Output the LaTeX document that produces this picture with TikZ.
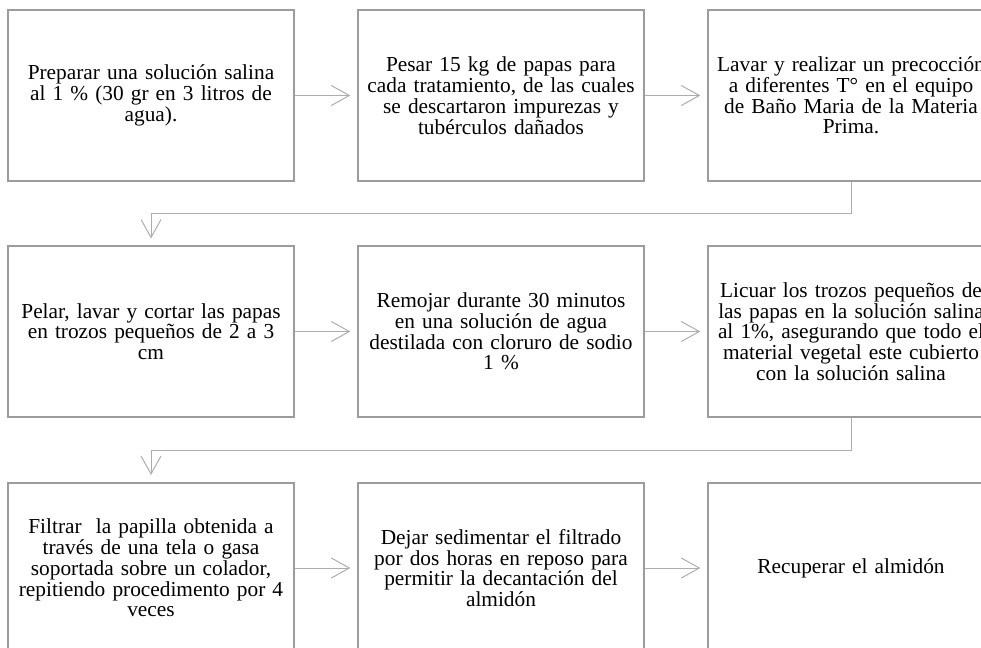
\documentclass[tikz,border=0pt]{standalone}
\usepackage{fontspec}
\setmainfont{Liberation Serif}
\usetikzlibrary{positioning,arrows.meta}

\definecolor{boxgray}{HTML}{9C9C9C}
\definecolor{arrgray}{HTML}{ADADAD}

\begin{document}
\begin{tikzpicture}[
  x=0.75pt, y=-0.75pt,
  font=\fontsize{16pt}{15.6pt}\selectfont, >={Straight Barb[length=13.5pt,width=15pt]},
  paso/.style={draw=boxgray, line width=1.5pt, minimum width=214.5pt, minimum height=128pt, text width=205pt, inner sep=0pt, align=center},
  arr/.style={->, line width=0.75pt, color=arrgray, shorten >=5pt},
]
\useasboundingbox (0,0) rectangle (981,647);
\clip (0,0) rectangle (981,647);

% fila 1
\node[paso] (p1) at (151,95.5) {Preparar una solución salina\\al 1 \% (30 gr en 3 litros de\\agua).};
\node[paso] (p2) at (501,95.5) {Pesar 15 kg de papas para\\cada tratamiento, de las cuales\\se descartaron impurezas y\\tubérculos dañados};
\node[paso] (p3) at (851,95.5) {Lavar y realizar un precocción\\a diferentes T° en el equipo\\de Baño Maria de la Materia\\Prima.};

% fila 2
\node[paso] (p4) at (151,331.5) {Pelar, lavar y cortar las papas\\en trozos pequeños de 2 a 3\\cm};
\node[paso] (p5) at (501,331.5) {Remojar durante 30 minutos\\en una solución de agua\\destilada con cloruro de sodio\\1 \%};
\node[paso] (p6) at (851,331.5) {Licuar los trozos pequeños de\\las papas en la solución salina\\al 1\%, asegurando que todo el\\material vegetal este cubierto\\con la solución salina};

% fila 3
\node[paso] (p7) at (151,568) {Filtrar\ \ la papilla obtenida a\\través de una tela o gasa\\soportada sobre un colador,\\repitiendo procedimento por 4\\veces};
\node[paso] (p8) at (501,568) {Dejar sedimentar el filtrado\\por dos horas en reposo para\\permitir la decantación del\\almidón};
\node[paso] (p9) at (851,568) {Recuperar el almidón};

\draw[arr] (p1) -- (p2);
\draw[arr] (p2) -- (p3);
\draw[arr] (p3.south) -- ++(0,32) -| (p4.north);
\draw[arr] (p4) -- (p5);
\draw[arr] (p5) -- (p6);
\draw[arr] (p6.south) -- ++(0,33) -| (p7.north);
\draw[arr] (p7) -- (p8);
\draw[arr] (p8) -- (p9);
\end{tikzpicture}
\end{document}
